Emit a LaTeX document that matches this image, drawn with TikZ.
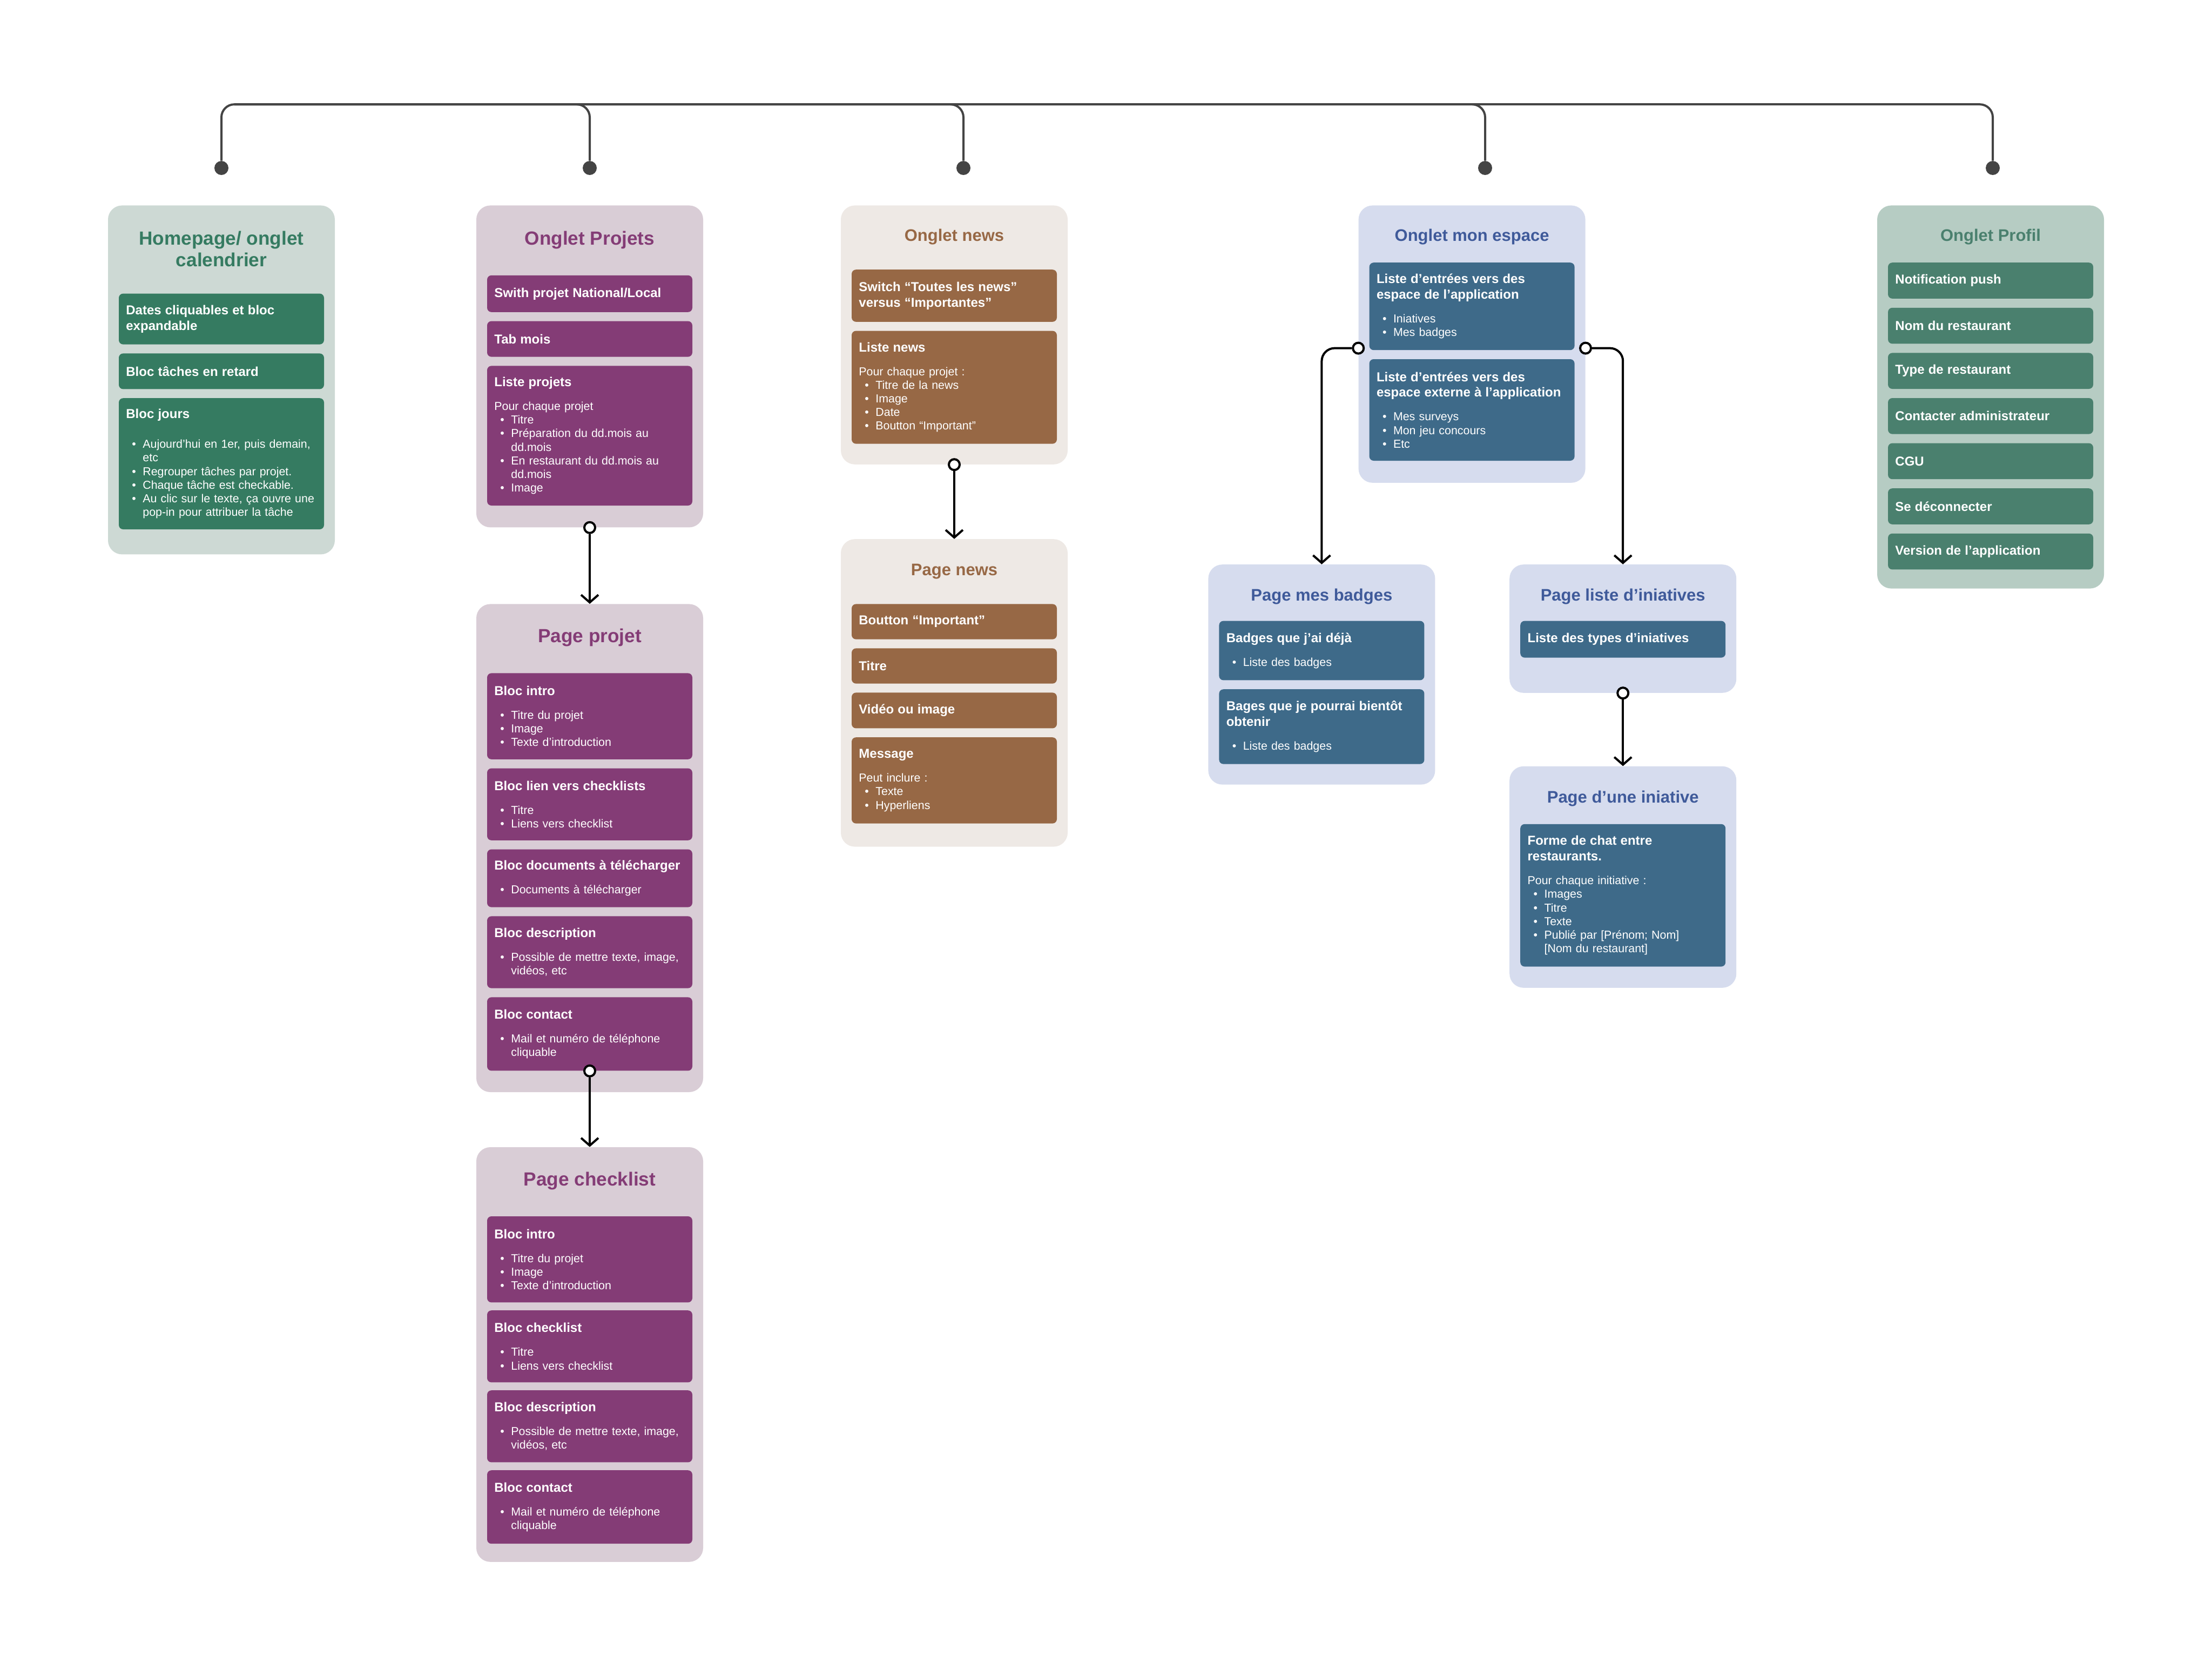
\documentclass[tikz,border=0pt]{standalone}
\usepackage{fontspec}
\setmainfont{Liberation Sans}
\usepackage{xcolor}
\usepackage{tikz}
\usetikzlibrary{arrows.meta,positioning}
\definecolor{vertfond}{HTML}{CDD9D4}
\definecolor{vertbloc}{HTML}{357B61}
\definecolor{violetfond}{HTML}{D9CDD6}
\definecolor{violetbloc}{HTML}{843C76}
\definecolor{brunfond}{HTML}{EEE9E5}
\definecolor{brunbloc}{HTML}{976845}
\definecolor{bleufond}{HTML}{D6DCEE}
\definecolor{bleubloc}{HTML}{3E6A89}
\definecolor{bleutitre}{HTML}{3F5A9A}
\definecolor{saugefond}{HTML}{B6CCC3}
\definecolor{saugebloc}{HTML}{4A806E}
\definecolor{traitgris}{HTML}{444444}
\setlength{\parindent}{0pt}
% en-tete d'un bloc, avec ou sans texte dessous
\newcommand{\hd}[1]{{\fontsize{12}{14.4}\selectfont\bfseries #1\par}}
\newcommand{\hdx}[2][9.4pt]{{\fontsize{12}{14.4}\selectfont\bfseries #2\par}\vspace{#1}}
\newcommand{\puce}[1]{\par\leavevmode\hangindent=15.5pt\hangafter=1\hspace*{5.5pt}\makebox[10pt][l]{\textbullet}#1\par}
\newcommand{\suite}{\hfil\break}

\begin{document}
\begin{tikzpicture}[
  x=1pt, y=-1pt,
  node distance=8pt,
  every node/.style={inner sep=0pt},
  panneau/.style={rounded corners=13pt, minimum width=210pt, anchor=north},
  titre/.style={font=\bfseries\fontsize{15.5}{19}\selectfont, align=center},
  grandtitre/.style={font=\bfseries\fontsize{17.6}{19.6}\selectfont, align=center},
  bloc/.style={rounded corners=4pt, text width=176.6pt, inner xsep=6.7pt, inner ysep=0pt,
               text=white, align=left, anchor=north, font=\fontsize{10.7}{12.6}\selectfont},
  vert/.style={bloc, fill=vertbloc},
  violet/.style={bloc, fill=violetbloc},
  brun/.style={bloc, fill=brunbloc},
  bleu/.style={bloc, fill=bleubloc},
  sauge/.style={bloc, fill=saugebloc},
  bus/.style={draw=traitgris, line width=2pt, rounded corners=12pt},
  point/.style={circle, fill=traitgris, minimum size=13pt},
  anneau/.style={circle, draw=black, fill=white, line width=2pt, minimum size=10pt},
  fleche/.style={draw=black, line width=2pt, -{Straight Barb[length=7pt, width=16pt]}},
]
  \fill[white] (0,0) rectangle (2048,1545.5);
  \useasboundingbox (0,0) rectangle (2048,1545.5);

  % Homepage
  \node[panneau, fill=vertfond, minimum height=323pt] (hp) at (205,190) {};
  \node[grandtitre, text=vertbloc] (t-hp) at ([yshift=-40.5pt]hp.north) {Homepage/ onglet\\calendrier};
  \node[vert, minimum height=47pt, below=81.6pt of hp.north] (hp1) {\hd{Dates cliquables et bloc\\expandable}};
  \node[vert, minimum height=33pt, below=of hp1] (hp2) {\hd{Bloc tâches en retard}};
  \node[vert, minimum height=121.4pt, below=of hp2] (hp3) {\hdx[15pt]{Bloc jours}\puce{Aujourd’hui en 1er, puis demain,\suite etc}\puce{Regrouper tâches par projet.}\puce{Chaque tâche est checkable.}\puce{Au clic sur le texte, ça ouvre une\suite pop-in pour attribuer la tâche}};

  % Onglet Projets
  \node[panneau, fill=violetfond, minimum height=298pt] (op) at (546,190) {};
  \node[grandtitre, text=violetbloc] (t-op) at ([yshift=-32pt]op.north) {Onglet Projets};
  \node[violet, minimum height=34pt, below=64.7pt of op.north] (op1) {\hd{Swith projet National/Local}};
  \node[violet, minimum height=33pt, below=of op1] (op2) {\hd{Tab mois}};
  \node[violet, minimum height=129.3pt, below=of op2] (op3) {\hdx{Liste projets}Pour chaque projet\puce{Titre}\puce{Préparation du dd.mois au\suite dd.mois}\puce{En restaurant du dd.mois au\suite dd.mois}\puce{Image}};

  % Page projet
  \node[panneau, fill=violetfond, minimum height=451.8pt] (pp) at (546,559) {};
  \node[grandtitre, text=violetbloc] (t-pp) at ([yshift=-31.3pt]pp.north) {Page projet};
  \node[violet, minimum height=79.7pt, below=64pt of pp.north] (pp1) {\hdx{Bloc intro}\puce{Titre du projet}\puce{Image}\puce{Texte d’introduction}};
  \node[violet, minimum height=66.6pt, below=of pp1] (pp2) {\hdx{Bloc lien vers checklists}\puce{Titre}\puce{Liens vers checklist}};
  \node[violet, minimum height=53.5pt, below=of pp2] (pp3) {\hdx{Bloc documents à télécharger}\puce{Documents à télécharger}};
  \node[violet, minimum height=66.6pt, below=of pp3] (pp4) {\hdx{Bloc description}\puce{Possible de mettre texte, image,\suite vidéos, etc}};
  \node[violet, minimum height=68pt, below=of pp4] (pp5) {\hdx{Bloc contact}\puce{Mail et numéro de téléphone\suite cliquable}};

  % Page checklist
  \node[panneau, fill=violetfond, minimum height=383.9pt] (pc) at (546,1061.8) {};
  \node[grandtitre, text=violetbloc] (t-pc) at ([yshift=-31.3pt]pc.north) {Page checklist};
  \node[violet, minimum height=79.7pt, below=64pt of pc.north] (pc1) {\hdx{Bloc intro}\puce{Titre du projet}\puce{Image}\puce{Texte d’introduction}};
  \node[violet, minimum height=66.6pt, below=7pt of pc1] (pc2) {\hdx{Bloc checklist}\puce{Titre}\puce{Liens vers checklist}};
  \node[violet, minimum height=66.6pt, below=7pt of pc2] (pc3) {\hdx{Bloc description}\puce{Possible de mettre texte, image,\suite vidéos, etc}};
  \node[violet, minimum height=68pt, below=7pt of pc3] (pc4) {\hdx{Bloc contact}\puce{Mail et numéro de téléphone\suite cliquable}};

  % Onglet news
  \node[panneau, fill=brunfond, minimum height=239.7pt] (on) at (883.5,190) {};
  \node[titre, text=brunbloc] (t-on) at ([yshift=-29.4pt]on.north) {Onglet news};
  \node[brun, minimum height=48.3pt, below=59.4pt of on.north] (on1) {\hd{Switch “Toutes les news”\\versus “Importantes”}};
  \node[brun, minimum height=104.5pt, below=of on1] (on2) {\hdx{Liste news}Pour chaque projet :\puce{Titre de la news}\puce{Image}\puce{Date}\puce{Boutton “Important”}};

  % Page news
  \node[panneau, fill=brunfond, minimum height=284.7pt] (pn) at (883.5,498.9) {};
  \node[titre, text=brunbloc] (t-pn) at ([yshift=-30.1pt]pn.north) {Page news};
  \node[brun, minimum height=32.6pt, below=60.1pt of pn.north] (pn1) {\hd{Boutton “Important”}};
  \node[brun, minimum height=32.6pt, below=of pn1] (pn2) {\hd{Titre}};
  \node[brun, minimum height=33pt, below=of pn2] (pn3) {\hd{Vidéo ou image}};
  \node[brun, minimum height=79.7pt, below=of pn3] (pn4) {\hdx{Message}Peut inclure :\puce{Texte}\puce{Hyperliens}};

  % Onglet mon espace
  \node[panneau, fill=bleufond, minimum height=256.7pt] (oe) at (1362.8,190) {};
  \node[titre, text=bleutitre] (t-oe) at ([yshift=-29.4pt]oe.north) {Onglet mon espace};
  \node[bleu, minimum height=81pt, below=52.9pt of oe.north] (oe1) {\hdx{Liste d’entrées vers des\\espace de l’application}\puce{Iniatives}\puce{Mes badges}};
  \node[bleu, minimum height=94pt, below=of oe1] (oe2) {\hdx{Liste d’entrées vers des\\espace externe à l’application}\puce{Mes surveys}\puce{Mon jeu concours}\puce{Etc}};

  % Page mes badges
  \node[panneau, fill=bleufond, minimum height=203.7pt] (pb) at (1223.7,522.4) {};
  \node[titre, text=bleutitre] (t-pb) at ([yshift=-30pt]pb.north) {Page mes badges};
  \node[bleu, minimum height=54.9pt, below=52.2pt of pb.north] (pb1) {\hdx{Badges que j’ai déjà}\puce{Liste des badges}};
  \node[bleu, minimum height=69.2pt, below=of pb1] (pb2) {\hdx{Bages que je pourrai bientôt\\obtenir}\puce{Liste des badges}};

  % Page liste d'iniatives
  \node[panneau, fill=bleufond, minimum height=118.8pt] (pli) at (1502.6,522.4) {};
  \node[titre, text=bleutitre] (t-pli) at ([yshift=-30pt]pli.north) {Page liste d’iniatives};
  \node[bleu, minimum height=34pt, below=52.2pt of pli.north] (pli1) {\hd{Liste des types d’iniatives}};

  % Page d'une iniative
  \node[panneau, fill=bleufond, minimum height=205pt] (pui) at (1502.6,709.2) {};
  \node[titre, text=bleutitre] (t-pui) at ([yshift=-30pt]pui.north) {Page d’une iniative};
  \node[bleu, minimum height=131.9pt, below=53.5pt of pui.north] (pui1) {\hdx{Forme de chat entre\\restaurants.}Pour chaque initiative :\puce{Images}\puce{Titre}\puce{Texte}\puce{Publié par [Prénom; Nom]\suite [Nom du restaurant]}};

  % Onglet Profil
  \node[panneau, fill=saugefond, minimum height=354.6pt] (opf) at (1843,190) {};
  \node[titre, text=saugebloc] (t-opf) at ([yshift=-29.4pt]opf.north) {Onglet Profil};
  \node[sauge, minimum height=33.3pt, below=52.9pt of opf.north] (opf1) {\hd{Notification push}};
  \node[sauge, minimum height=33.3pt, below=8.1pt of opf1] (opf2) {\hd{Nom du restaurant}};
  \node[sauge, minimum height=33.3pt, below=8.1pt of opf2] (opf3) {\hd{Type de restaurant}};
  \node[sauge, minimum height=33.3pt, below=8.1pt of opf3] (opf4) {\hd{Contacter administrateur}};
  \node[sauge, minimum height=33.3pt, below=8.1pt of opf4] (opf5) {\hd{CGU}};
  \node[sauge, minimum height=33.3pt, below=8.1pt of opf5] (opf6) {\hd{Se déconnecter}};
  \node[sauge, minimum height=33.3pt, below=8.1pt of opf6] (opf7) {\hd{Version de l’application}};

  % barre du haut
  \coordinate (racine) at (217,96.6);
  \node[point] (d1) at (205,155.5) {};
  \node[point] (d2) at (546,155.5) {};
  \node[point] (d3) at (892,155.5) {};
  \node[point] (d4) at (1375,155.5) {};
  \node[point] (d5) at (1845,155.5) {};
  \draw[bus] (racine) -| (d1);
  \draw[bus] (racine) -| (d2);
  \draw[bus] (racine) -| (d3);
  \draw[bus] (racine) -| (d4);
  \draw[bus] (racine) -| (d5);

  % liens entre pages
  \node[anneau] (a1) at (op.south) {};
  \draw[fleche] (a1) -- (pp.north);
  \node[anneau] (a2) at (pp5.south) {};
  \draw[fleche] (a2) -- (pc.north);
  \node[anneau] (a3) at (on.south) {};
  \draw[fleche] (a3) -- (pn.north);
  \node[anneau, yshift=2pt] (a4) at (oe.west |- oe1.south) {};
  \draw[fleche, rounded corners=12pt] (a4) -| (pb.north);
  \node[anneau, yshift=2pt] (a5) at (oe.east |- oe1.south) {};
  \draw[fleche, rounded corners=12pt] (a5) -| (pli.north);
  \node[anneau] (a6) at (pli.south) {};
  \draw[fleche] (a6) -- (pui.north);
\end{tikzpicture}
\end{document}
